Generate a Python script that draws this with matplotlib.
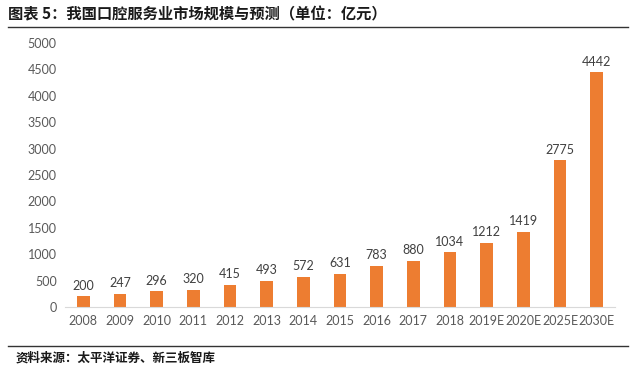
import matplotlib
matplotlib.use("Agg")
import matplotlib.pyplot as plt
from matplotlib.lines import Line2D

plt.rcParams['font.family'] = ['Lato', 'Noto Sans CJK SC', 'DejaVu Sans']

# 数据
years = ["2008", "2009", "2010", "2011", "2012", "2013", "2014", "2015",
         "2016", "2017", "2018", "2019E", "2020E", "2025E", "2030E"]
values = [200, 247, 296, 320, 415, 493, 572, 631, 783, 880, 1034, 1212, 1419, 2775, 4442]
yticks = [0, 500, 1000, 1500, 2000, 2500, 3000, 3500, 4000, 4500, 5000]

title = "图表 5：我国口腔服务业市场规模与预测（单位：亿元）"
source = "资料来源：太平洋证券、新三板智库"

fig = plt.figure(figsize=(6.4, 3.73), dpi=100)
ax = fig.add_axes([65 / 640, 1 - 307 / 373, 550 / 640, 264 / 373])

x = list(range(len(years)))
bars = ax.bar(x, values, width=0.34, color="#ED7D31")
for b, v in zip(bars, values):
    ax.text(b.get_x() + b.get_width() / 2, v + 90, str(v), ha="center", va="bottom",
            fontsize=9, color="#404040")

ax.set_xlim(-0.5, len(years) - 0.5)
ax.set_ylim(0, 5000)
ax.set_yticks(yticks)
ax.set_xticks(x)
ax.set_xticklabels(years)
ax.tick_params(axis="both", length=0, labelsize=9, colors="#595959", pad=6)
for s in ["top", "right", "left"]:
    ax.spines[s].set_visible(False)
ax.spines["bottom"].set_color("#D9D9D9")

# 标题和来源
fig.text(8 / 640, 1 - 14 / 373, title, fontsize=11, fontweight="bold", va="center",
         family=["Noto Sans CJK SC", "DejaVu Sans"], color="#1a1a1a")
fig.add_artist(Line2D([8 / 640, 628 / 640], [1 - 27 / 373] * 2, color="#333333", lw=1))
fig.add_artist(Line2D([8 / 640, 628 / 640], [1 - 346 / 373] * 2, color="#333333", lw=1))
fig.text(16 / 640, 1 - 358 / 373, source, fontsize=9, fontweight="bold", va="center",
         family=["Noto Sans CJK SC", "DejaVu Sans"], color="#1a1a1a")

fig.savefig("out.png", dpi=100)
